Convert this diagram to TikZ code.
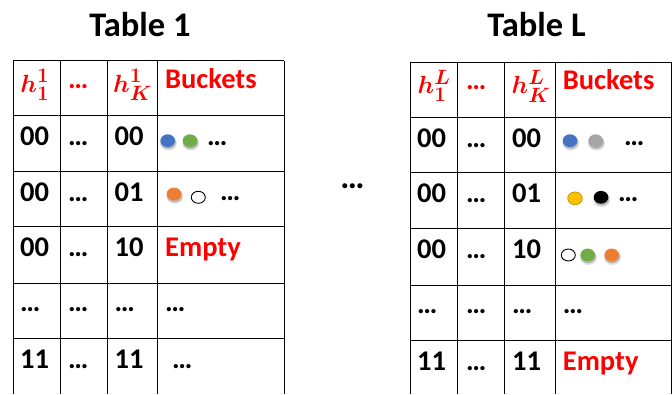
\documentclass[tikz,border=0pt]{standalone}
\usepackage{amsmath}
\usepackage[no-math]{fontspec}
\setmainfont{Carlito}
\definecolor{tred}{HTML}{FF0000}
\definecolor{bblue}{HTML}{4472C4}
\definecolor{bgreen}{HTML}{70AD47}
\definecolor{borange}{HTML}{ED7D31}
\definecolor{bgray}{HTML}{A5A5A5}
\definecolor{byellow}{HTML}{FFC000}
\definecolor{byellowd}{HTML}{BF9000}
\newcommand\sball[3]{%
  \fill[black,opacity=0.10] (#1+0.8,#2+2.4) ellipse (8.6 and 7.6);
  \fill[black,opacity=0.20] (#1+0.6,#2+1.8) ellipse (7.6 and 6.6);
  \fill[#3] (#1,#2) ellipse (7.3 and 6.4);}
\newcommand\oball[2]{%
  \draw[line width=0.9pt,fill=white] (#1,#2) ellipse (7 and 6);}
\begin{document}
\begin{tikzpicture}[x=1pt,y=-1pt,
  cell/.style={anchor=base west,inner sep=0pt,font=\fontsize{28.5}{30}\selectfont\bfseries},
  hdr/.style={cell,text=tred},
  mhdr/.style={anchor=base west,inner sep=0pt,text=tred,font=\fontsize{31}{33}\selectfont},
  ttl/.style={anchor=base,inner sep=0pt,font=\fontsize{34.5}{36}\selectfont\bfseries},
  grid/.style={line width=0.9pt}]
\useasboundingbox (0,0) rectangle (672,394);
% titles
\node[ttl] (title1) at (140,36) {Table 1};
\node[ttl] (titleL) at (536.5,36) {Table L};
% table 1 lines
\foreach \x in {13,60,107,157,284} \draw[grid] (\x,60.7) -- (\x,394);
\foreach \y in {60.7,115.7,171.7,226,283.3,338.3} \draw[grid] (13,\y) -- (284,\y);
% table L lines
\foreach \x in {410.3,457.7,504.7,555.3,671.2} \draw[grid] (\x,62) -- (\x,394);
\foreach \y in {62,117.3,172.7,228.3,285.3,340.3} \draw[grid] (410.3,\y) -- (671.2,\y);
% table 1 header
\node[mhdr] (a-h1) at (20.2,92) {$\boldsymbol{h}^{\mathbf{1}}_{\mathbf{1}}$};
\node[hdr] (a-hd) at (68,88.3) {…};
\node[mhdr] (a-hk) at (113,92) {$\boldsymbol{h}^{\mathbf{1}}_{\boldsymbol{K}}$};
\node[hdr] (a-hb) at (165,88.3) {Buckets};
% table 1 rows
\node[cell] (a-11) at (20,145.7) {00};
\node[cell] (a-12) at (68,145.7) {…};
\node[cell] (a-13) at (114.5,145.7) {00};
\sball{167.7}{140.7}{bblue}
\sball{190}{140.7}{bgreen}
\node[cell] (a-14) at (207,145.7) {…};
\node[cell] (a-21) at (20,201.7) {00};
\node[cell] (a-22) at (68,201.7) {…};
\node[cell] (a-23) at (114.5,201.7) {01};
\sball{174}{194}{borange}
\oball{198.3}{197.3}
\node[cell] (a-24) at (220,200) {…};
\node[cell] (a-31) at (20,256) {00};
\node[cell] (a-32) at (68,256) {…};
\node[cell] (a-33) at (114.5,256) {10};
\node[cell,text=tred] (a-34) at (165,256) {Empty};
\node[cell] (a-41) at (20,311.5) {…};
\node[cell] (a-42) at (68,311.5) {…};
\node[cell] (a-43) at (114.5,311.5) {…};
\node[cell] (a-44) at (165,311.5) {…};
\node[cell] (a-51) at (20,368.3) {11};
\node[cell] (a-52) at (68,368.3) {…};
\node[cell] (a-53) at (114.5,368.3) {11};
\node[cell] (a-54) at (172,368.3) {…};
% middle dots
\node[inner sep=0pt,font=\fontsize{34}{36}\selectfont\bfseries] (mid) at (352.5,186) {…};
% table L header
\node[mhdr] (b-h1) at (417.5,93.3) {$\boldsymbol{h}^{\boldsymbol{L}}_{\mathbf{1}}$};
\node[hdr] (b-hd) at (466,89.6) {…};
\node[mhdr] (b-hk) at (511.5,93.3) {$\boldsymbol{h}^{\boldsymbol{L}}_{\boldsymbol{K}}$};
\node[hdr] (b-hb) at (562.7,89.6) {Buckets};
% table L rows
\node[cell] (b-11) at (417,147) {00};
\node[cell] (b-12) at (466,147) {…};
\node[cell] (b-13) at (512,147) {00};
\sball{570}{140.7}{bblue}
\sball{595.7}{140.7}{bgray}
\node[cell] (b-14) at (624,145.5) {…};
\node[cell] (b-21) at (417,202.5) {00};
\node[cell] (b-22) at (466,202.5) {…};
\node[cell] (b-23) at (512,202.5) {01};
\draw[byellowd,line width=0.7pt,fill=byellow] (575,198.3) ellipse (7.3 and 6.4);
\sball{601}{197.3}{black}
\node[cell] (b-24) at (618,201.5) {…};
\node[cell] (b-31) at (417,258) {00};
\node[cell] (b-32) at (466,258) {…};
\node[cell] (b-33) at (512,258) {10};
\oball{568.3}{255}
\sball{587.7}{255}{bgreen}
\sball{611.7}{255}{borange}
\node[cell] (b-41) at (417,313) {…};
\node[cell] (b-42) at (466,313) {…};
\node[cell] (b-43) at (512,313) {…};
\node[cell] (b-44) at (562.7,313) {…};
\node[cell] (b-51) at (417,370) {11};
\node[cell] (b-52) at (466,370) {…};
\node[cell] (b-53) at (512,370) {11};
\node[cell,text=tred] (b-54) at (562.7,370) {Empty};
\end{tikzpicture}
\end{document}
